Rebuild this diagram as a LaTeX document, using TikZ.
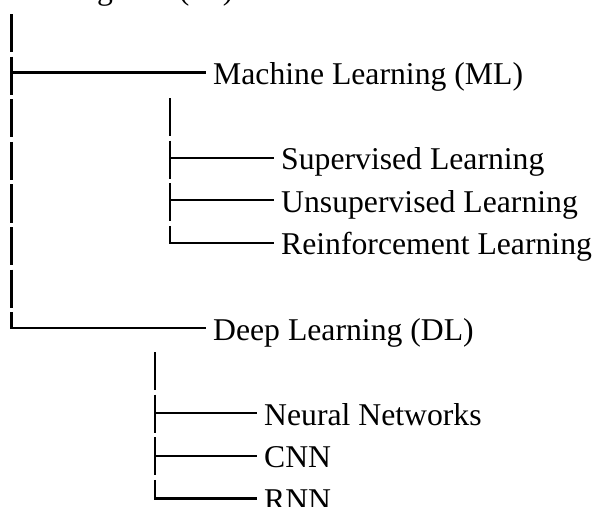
\documentclass[tikz,border=0pt]{standalone}
\usepackage{fontspec}
\setmainfont{Liberation Serif}
\usepackage{tikz}
\usetikzlibrary{calc}
\tikzset{
  % Label styles
  itemlabel/.style={anchor=west, inner xsep=8pt, inner ysep=0pt, text height=24pt, text depth=0pt, font=\fontsize{31.7}{36}\selectfont},
  % Line styles
  trunkline/.style={line width=2.2pt, dash pattern=on 38.2pt off 4.4pt},
  branchline/.style={line width=2.2pt, line cap=rect}
}

\begin{document}
\begin{tikzpicture}[x=1pt, y=1pt]
  \useasboundingbox (0,0) rectangle (597,-506);
  \clip (0,0) rectangle (597,-506);

  % Root and first level
  \node[itemlabel] (ai) at (-111,12.7) {Artificial Intelligence (AI)};
  \node[itemlabel] (ml) at (205,-72.5) {Machine Learning (ML)};
  \node[itemlabel] (dl) at (205,-328.1) {Deep Learning (DL)};

  % Machine learning branch
  \node[itemlabel] (sup) at (273,-157.7) {Supervised Learning};
  \node[itemlabel] (unsup) at (273,-200.3) {Unsupervised Learning};
  \node[itemlabel] (rl) at (273,-242.9) {Reinforcement Learning};

  % Deep learning branch
  \node[itemlabel] (nn) at (256,-413.3) {Neural Networks};
  \node[itemlabel] (cnn) at (256,-455.9) {CNN};
  \node[itemlabel] (rnn) at (256,-498.5) {RNN};

  % Trunk tops
  \coordinate (aitop) at (11.5,-14);
  \coordinate (mltop) at (170,-98);
  \coordinate (dltop) at (155,-352);

  \draw[trunkline] (aitop) -- (aitop |- dl.west);
  \draw[branchline] (aitop |- ml.west) -- (ml.west);
  \draw[branchline] (aitop |- dl.west) -- (dl.west);

  \draw[trunkline] (mltop) -- (mltop |- rl.west);
  \draw[branchline] (mltop |- sup.west) -- (sup.west);
  \draw[branchline] (mltop |- unsup.west) -- (unsup.west);
  \draw[branchline] (mltop |- rl.west) -- (rl.west);

  \draw[trunkline] (dltop) -- (dltop |- rnn.west);
  \draw[branchline] (dltop |- nn.west) -- (nn.west);
  \draw[branchline] (dltop |- cnn.west) -- (cnn.west);
  \draw[branchline] (dltop |- rnn.west) -- (rnn.west);
\end{tikzpicture}
\end{document}
